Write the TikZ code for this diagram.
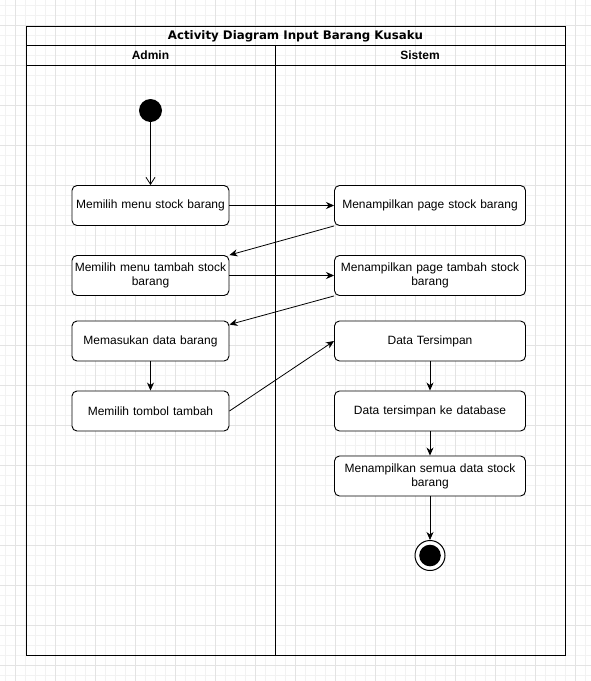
\documentclass[tikz,border=0pt]{standalone}
\usepackage{fontspec}
\setmainfont{Liberation Sans}
\newfontfamily\titlefont{DejaVu Sans}
\usetikzlibrary{arrows.meta}
\begin{document}
\begin{tikzpicture}[x=1pt,y=-1pt,
  act/.style={draw,line width=0.9pt,fill=white,rounded corners=5pt,align=center,font=\fontsize{12}{14}\selectfont,inner sep=2pt},
  lbox/.style={act,minimum width=157pt,minimum height=40pt,text width=153pt},
  rbox/.style={act,minimum width=191pt,minimum height=40pt,text width=185pt},
  flow/.style={line width=0.8pt,-{Stealth[length=8pt,width=7pt,inset=2.5pt]}},
  lanehead/.style={font=\bfseries\fontsize{12}{14}\selectfont},
  frame/.style={line width=0.9pt}]
\useasboundingbox (0,0) rectangle (591,681);
\fill[white] (0,0) rectangle (591,681);
% background grid
\foreach \x in {5,15,...,585} \draw[black!5,line width=0.8pt] (\x,0) -- (\x,681);
\foreach \y in {5,15,...,675} \draw[black!5,line width=0.8pt] (0,\y) -- (591,\y);
\foreach \x in {15,55,...,575} \draw[black!11,line width=0.8pt] (\x,0) -- (\x,681);
\foreach \y in {25,65,...,665} \draw[black!11,line width=0.8pt] (0,\y) -- (591,\y);
% swimlane frame
\draw[frame] (26,26) rectangle (565,655);
\draw[frame] (26,45.5) -- (565,45.5);
\draw[frame] (26,65.5) -- (565,65.5);
\draw[frame] (275,45.5) -- (275,655);
\node[font=\titlefont\bfseries\fontsize{11.8}{14}\selectfont] (title) at (295.5,35.8) {Activity Diagram Input Barang Kusaku};
\node[lanehead] (admin) at (150.5,55.5) {Admin};
\node[lanehead] (sistem) at (420,55.5) {Sistem};
% start
\node[circle,fill=black,minimum size=23pt,inner sep=0pt] (start) at (150.5,110.5) {};
% admin lane
\node[lbox] (a1) at (150.5,205.5) {Memilih menu stock barang};
\node[lbox] (a2) at (150.5,275.5) {Memilih menu tambah stock\\barang};
\node[lbox] (a3) at (150.5,341) {Memasukan data barang};
\node[lbox] (a4) at (150.5,411) {Memilih tombol tambah};
% system lane
\node[rbox] (s1) at (430,205.5) {Menampilkan page stock barang};
\node[rbox] (s2) at (430,275.5) {Menampilkan page tambah stock\\barang};
\node[rbox] (s3) at (430,341) {Data Tersimpan};
\node[rbox] (s4) at (430,411) {Data tersimpan ke database};
\node[rbox] (s5) at (430,476) {Menampilkan semua data stock\\barang};
% end
\node[circle,draw,line width=1pt,fill=white,minimum size=30pt,inner sep=0pt] (end) at (430,555.5) {};
\fill[black] (end.center) circle (10.8pt);
% connectors
\draw[line width=0.8pt,-{Straight Barb[length=7pt,width=9pt]}] (start) -- (a1);
\draw[flow] (a1) -- (s1);
\draw[flow] (s1.south west) -- (a2.north east);
\draw[flow] (a2) -- (s2);
\draw[flow] (s2.south west) -- ([yshift=-4pt]a3.north east);
\draw[flow] (a3) -- (a4);
\draw[flow] (a4.east) -- (s3.west);
\draw[flow] (s3) -- (s4);
\draw[flow] (s4) -- (s5);
\draw[flow] (s5) -- (end);
\end{tikzpicture}
\end{document}
